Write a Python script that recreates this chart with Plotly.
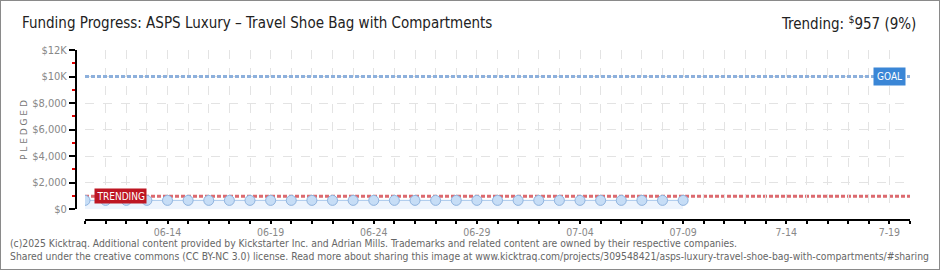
import plotly.graph_objects as go

# ---- data ----
dates = ["2025-06-%02d" % d for d in range(10, 31)] + ["2025-07-%02d" % d for d in range(1, 10)]
pledged = [650, 650, 650, 650, 650, 650, 650, 650, 650, 650,
           650, 650, 650, 650, 650, 650, 650, 650, 650, 650,
           650, 650, 650, 650, 650, 650, 650, 650, 650, 650]
goal = 10000
trending = 957
x_range = ["2025-06-10", "2025-07-20"]
x_tickvals = ["2025-06-14", "2025-06-19", "2025-06-24", "2025-06-29",
              "2025-07-04", "2025-07-09", "2025-07-14", "2025-07-19"]
x_ticktext = ["06-14", "06-19", "06-24", "06-29", "07-04", "07-09", "7-14", "7-19"]
y_tickvals = [0, 2000, 4000, 6000, 8000, 10000, 12000]
y_ticktext = ["$0", "$2,000", "$4,000", "$6,000", "$8,000", "$10K", "$12K"]
y_minor = [1000, 3000, 5000, 7000, 9000, 11000]

W, H = 940, 270
def px(x): return x / W
def py(y): return 1 - y / H

fig = go.Figure()
fig.add_trace(go.Scatter(
    x=dates, y=pledged, mode="lines+markers",
    fill="tozeroy", fillcolor="#edf4fd",
    line=dict(color="#a9c8ec", width=1),
    marker=dict(size=10, color="#c6ddf6", line=dict(color="#8fb3de", width=1)),
    hoverinfo="skip", showlegend=False,
))

# goal and trending lines
fig.add_shape(type="line", xref="x", yref="y", x0=x_range[0], x1=x_range[1], y0=goal, y1=goal,
              line=dict(color="#8db0dc", width=3, dash="4px,2px"), layer="above")
fig.add_shape(type="line", xref="x", yref="y", x0=x_range[0], x1=x_range[1], y0=trending, y1=trending,
              line=dict(color="#dc6a6f", width=3, dash="4px,2px"), layer="below")

fig.add_annotation(x="2025-06-11 17:00", y=trending, xref="x", yref="y", text="TRENDING",
                   showarrow=False, font=dict(family="DejaVu Sans Condensed", size=10, color="white"),
                   bgcolor="#be1622", borderpad=1.5)
fig.add_annotation(x="2025-07-19", y=goal, xref="x", yref="y", text="GOAL",
                   showarrow=False, font=dict(family="DejaVu Sans Condensed", size=10, color="white"),
                   bgcolor="#3a86d6", borderpad=3)

# titles
fig.add_annotation(x=px(20), y=py(23), xref="paper", yref="paper", xanchor="left", yanchor="middle",
                   text="Funding Progress: ASPS Luxury \u2013 Travel Shoe Bag with Compartments",
                   showarrow=False, font=dict(family="DejaVu Sans Condensed", size=15, color="#222"))
fig.add_annotation(x=px(918), y=py(23), xref="paper", yref="paper", xanchor="right", yanchor="middle",
                   text="Trending: <sup>$</sup>957 (9%)",
                   showarrow=False, font=dict(family="DejaVu Sans Condensed", size=15, color="#222"))
fig.add_annotation(x=px(24), y=py(130), xref="paper", yref="paper", xanchor="center", yanchor="middle",
                   text="P L E D G E D", textangle=-90,
                   showarrow=False, font=dict(family="DejaVu Sans", size=9, color="#777"))
fig.add_annotation(x=px(8), y=py(243), xref="paper", yref="paper", xanchor="left", yanchor="middle",
                   text="(c)2025 Kicktraq. Additional content provided by Kickstarter Inc. and Adrian Mills. Trademarks and related content are owned by their respective companies.",
                   showarrow=False, font=dict(family="DejaVu Sans Condensed", size=10.3, color="#666"))
fig.add_annotation(x=px(8), y=py(256), xref="paper", yref="paper", xanchor="left", yanchor="middle",
                   text="Shared under the creative commons (CC BY-NC 3.0) license. Read more about sharing this image at www.kicktraq.com/projects/309548421/asps-luxury-travel-shoe-bag-with-compartments/#sharing",
                   showarrow=False, font=dict(family="DejaVu Sans Condensed", size=10.3, color="#666"))

# border
fig.add_shape(type="rect", xref="paper", yref="paper", x0=0, x1=1, y0=0, y1=1,
              line=dict(color="#8a8a8a", width=2), fillcolor="rgba(0,0,0,0)")

fig.update_layout(
    width=W, height=H, margin=dict(l=0, r=0, t=0, b=0, autoexpand=False),
    paper_bgcolor="white", plot_bgcolor="white",
    xaxis=dict(
        type="date", range=x_range, domain=[px(85), px(910)],
        anchor="free", position=py(220), automargin=False,
        tickmode="array", tickvals=x_tickvals, ticktext=x_ticktext,
        ticks="outside", ticklen=3, tickcolor="black", tickwidth=1.5,
        ticklabelstandoff=-1, tickangle=0,
        showline=True, linecolor="black", linewidth=2,
        showgrid=True, gridcolor="#e3e3e3", griddash="dash", gridwidth=1,
        tickfont=dict(family="DejaVu Sans Condensed", size=10.5, color="#888"),
        minor=dict(tickmode="linear", tick0="2025-06-10", dtick=86400000, ticks="outside",
                   ticklen=3, tickcolor="black", tickwidth=1.5,
                   showgrid=True, gridcolor="#e3e3e3", griddash="dash", gridwidth=1),
        zeroline=False, fixedrange=True,
    ),
    yaxis=dict(
        range=[0, 12000], domain=[py(209), py(50)],
        anchor="free", position=px(76), automargin=False,
        tickmode="array", tickvals=y_tickvals, ticktext=y_ticktext,
        ticks="outside", ticklen=6, tickcolor="black", tickwidth=1.5,
        showline=True, linecolor="black", linewidth=2,
        showgrid=True, gridcolor="#e3e3e3", griddash="dash", gridwidth=1,
        tickfont=dict(family="DejaVu Sans Condensed", size=11, color="#888"),
        minor=dict(tickmode="array", tickvals=y_minor, ticks="outside", ticklen=3,
                   tickcolor="#e00000", tickwidth=1.5, showgrid=False),
        zeroline=False, fixedrange=True,
    ),
)

fig.write_html("out.html")
